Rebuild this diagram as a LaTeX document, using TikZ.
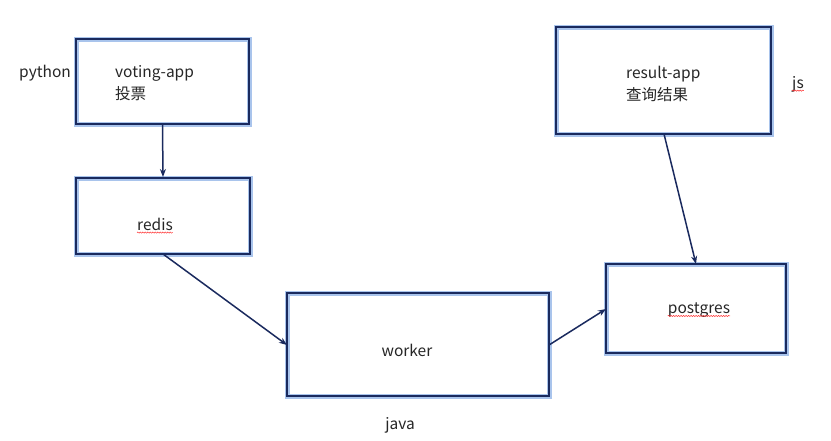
\documentclass[tikz,border=0pt]{standalone}
\usepackage{fontspec}
\setmainfont{Noto Sans CJK SC}
\usetikzlibrary{arrows.meta,decorations.pathmorphing}
\definecolor{navy}{HTML}{1A2A5E}
\definecolor{glow}{HTML}{A9C4EC}
\begin{document}
\begin{tikzpicture}[x=1pt,y=-1pt,
  boxstyle/.style={draw=navy,line width=2pt,inner sep=0pt,
    preaction={draw=glow,line width=5pt}},
  lbl/.style={font=\fontsize{15.5}{19}\selectfont,text=black!85,inner sep=0pt},
  conn/.style={draw=navy,line width=1.5pt,-{Stealth[length=8pt,width=6pt]}},
  spell/.style={draw=red!80,line width=0.5pt,decorate,decoration={snake,amplitude=0.6pt,segment length=2.5pt}}]
\useasboundingbox (0,0) rectangle (831,440);
\fill[white] (0,0) rectangle (831,440);
% boxes
\node[boxstyle,minimum width=173pt,minimum height=85pt] (vote) at (162.5,81.5) {};
\node[boxstyle,minimum width=174pt,minimum height=76pt] (redis) at (163,216) {};
\node[boxstyle,minimum width=215pt,minimum height=107pt] (result) at (663.5,80.5) {};
\node[boxstyle,minimum width=262pt,minimum height=103pt] (worker) at (418,344.5) {};
\node[boxstyle,minimum width=180pt,minimum height=89pt] (pg) at (696,308.5) {};
% labels
\node[lbl,anchor=west] (tpy) at (19,73) {python};
\node[lbl,anchor=west] (tvote) at (115,73) {voting-app};
\node[lbl,anchor=west] (tvote2) at (115,94) {投票};
\node[lbl] (tredis) at (155,224) {redis};
\node[lbl,anchor=west] (tres) at (626,74) {result-app};
\node[lbl,anchor=west] (tres2) at (626,95) {查询结果};
\node[lbl] (tjs) at (798,84) {js};
\node[lbl] (twork) at (407,350) {worker};
\node[lbl] (tjava) at (400,425) {java};
\node[lbl] (tpg) at (699,310) {postgres};
% spell-check underlines
\draw[spell] ([yshift=-2.5pt]tredis.base west) -- ([yshift=-2.5pt]tredis.base east);
\draw[spell] ([yshift=-2.5pt]tjs.base west) -- ([yshift=-2.5pt]tjs.base east);
\draw[spell] ([yshift=-2.5pt]tpg.base west) -- ([yshift=-2.5pt]tpg.base east);
% connectors
\draw[conn] (vote.south) -- (redis.north);
\coordinate (rs) at (163,254);
\coordinate (wl) at (287,345);
\draw[conn] (rs) -- (wl);
\coordinate (wr) at (549,345);
\coordinate (pl) at (606,309);
\draw[conn] (wr) -- (pl);
\coordinate (rb) at (664,134);
\coordinate (pt) at (696,264);
\draw[conn] (rb) -- (pt);
\end{tikzpicture}
\end{document}
